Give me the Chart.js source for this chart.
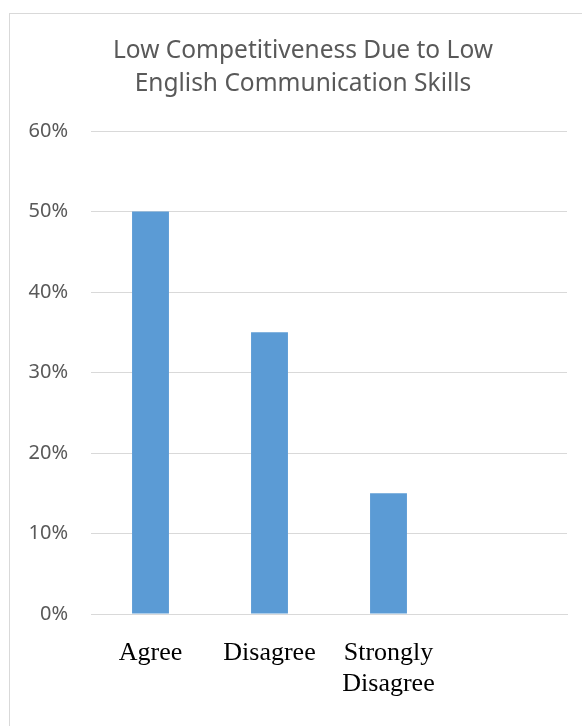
<!DOCTYPE html>
<html>
<head>
<meta charset="utf-8">
<script src="https://cdn.jsdelivr.net/npm/chart.js@4.4.1/dist/chart.umd.min.js"></script>
<style>
    html, body { margin: 0; padding: 0; background: #fff; overflow: hidden; }
    #frame {
        position: absolute;
        left: 9px;
        top: 13px;
        width: 586px;
        height: 740px;
        border: 1px solid #d9d9d9;
    }
</style>
</head>
<body>
<div id="frame"><canvas id="competitivenessChart" width="586" height="740"></canvas></div>
<script>
const categories = ['Agree', 'Disagree', ['Strongly', 'Disagree'], ''];
const shares = [0.50, 0.35, 0.15, null];
const yTicks = [0, 0.1, 0.2, 0.3, 0.4, 0.5, 0.6];

document.addEventListener("DOMContentLoaded", function () {
    Chart.defaults.font.family = '"Noto Sans", sans-serif';
    Chart.defaults.color = '#595959';

    const ctx = document.getElementById('competitivenessChart');
    if (!ctx) return;

    new Chart(ctx, {
        type: 'bar',
        data: {
            labels: categories,
            datasets: [{
                label: 'Share',
                data: shares,
                backgroundColor: '#5B9BD5',
                categoryPercentage: 1,
                barPercentage: 0.31
            }]
        },
        options: {
            responsive: false,
            animation: false,
            layout: {
                padding: 0
            },
            scales: {
                y: {
                    min: 0,
                    max: 0.6,
                    afterFit: function (scale) { scale.width = 81; },
                    afterBuildTicks: function (scale) {
                        scale.ticks = yTicks.map(v => ({ value: v }));
                    },
                    border: { display: false },
                    grid: { color: '#d9d9d9', drawTicks: false },
                    ticks: {
                        padding: 23,
                        color: '#595959',
                        font: { size: 20 },
                        callback: function (value) {
                            return Math.round(value * 100) + '%';
                        }
                    }
                },
                // empty right-hand spacer so the title stays centred on the whole frame
                spacer: {
                    type: 'linear',
                    position: 'right',
                    display: true,
                    afterFit: function (scale) { scale.width = 29; },
                    border: { display: false },
                    grid: { display: false, drawTicks: false },
                    ticks: { display: false }
                },
                x: {
                    afterFit: function (scale) { scale.height = 140; },
                    border: { color: '#d9d9d9' },
                    grid: { display: false, drawTicks: false },
                    ticks: {
                        padding: 24,
                        maxRotation: 0,
                        autoSkip: false,
                        color: '#000000',
                        font: { family: '"Liberation Serif", serif', size: 26, lineHeight: 1.18 }
                    }
                }
            },
            plugins: {
                legend: { display: false },
                tooltip: { enabled: false },
                title: {
                    display: true,
                    text: ['Low Competitiveness Due to Low', 'English Communication Skills'],
                    color: '#595959',
                    font: { size: 24.5, weight: 'normal', lineHeight: 1.37 },
                    padding: { top: 20, bottom: 30 }
                }
            }
        }
    });
});
</script>
</body>
</html>
